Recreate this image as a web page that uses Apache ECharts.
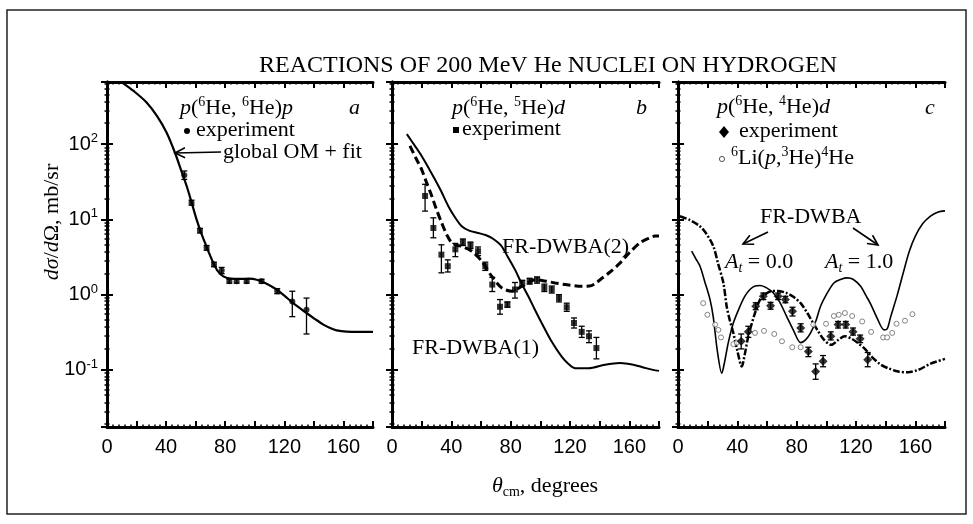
<!DOCTYPE html>
<html>
<head>
<meta charset="utf-8">
<title>Reactions of 200 MeV He nuclei on hydrogen</title>
<script src="https://cdn.jsdelivr.net/npm/echarts@6/dist/echarts.min.js"></script>
<style>
	html, body { margin: 0; padding: 0; background: #fff; }
	#chart { width: 973px; height: 524px; }
</style>
</head>
<body>
<div id="chart"></div>
<script>
	// tick labels
	const xTickLabels = [0, 40, 80, 120, 160];
	const yRange = [0.0174, 671];

	// panel a: p(6He,6He)p, [theta, dsigma]
	const omFit = [[4, 800], [10.8, 650], [18, 510], [26.8, 359], [34, 235], [40.3, 143], [46, 77], [50, 46],
		[53.9, 27.8], [57, 17.5], [60.6, 10], [63.5, 6.8], [66.3, 4.9], [69, 3.6], [71.9, 2.65], [75, 2.05],
		[78.7, 1.75], [84, 1.63], [90, 1.62], [96, 1.63], [101.3, 1.58], [108, 1.4], [114.8, 1.17], [120, 0.97],
		[126, 0.77], [135, 0.57], [141, 0.47], [146.4, 0.4], [151, 0.36], [155.4, 0.335], [162, 0.322],
		[171, 0.32], [180, 0.32]];
	// [theta, value, low, high]
	const expA = [[52.3, 38.6, 34, 44], [57.2, 16.7, 15.5, 18], [62.9, 7.1, 6.6, 7.6], [67.4, 4.19, 3.9, 4.5],
		[72.4, 2.51, 2.35, 2.7], [77.6, 2.09, 1.9, 2.3], [82.8, 1.51, 1.42, 1.6], [87.7, 1.51, 1.42, 1.6],
		[94.5, 1.51, 1.42, 1.6], [104.6, 1.51, 1.42, 1.6], [115.2, 1.11, 1.03, 1.2], [125.4, 0.81, 0.51, 1.11],
		[135, 0.63, 0.3, 0.9]];

	// panel b: p(6He,5He)d
	const dwba1 = [[10, 136], [15, 98], [20, 69.8], [25, 47], [29, 34], [33, 24], [38, 15], [42, 11], [47, 8.1],
		[52, 7.1], [58.2, 6.6], [63, 6.2], [67.2, 5.7], [71, 5.0], [73.9, 4.4], [78, 3.2], [82.9, 2.15],
		[87.4, 1.4], [91.9, 0.95], [96, 0.65], [100.9, 0.42], [107, 0.25], [114.4, 0.15], [119, 0.12],
		[123.6, 0.105], [132.5, 0.105], [143.6, 0.117], [153.7, 0.123], [162.7, 0.117], [170, 0.107],
		[176, 0.1], [180, 0.097]];
	const dwba2 = [[12.1, 95], [16, 66], [20, 46], [23, 32], [26.8, 20.5], [30, 13.5], [33.5, 9], [37, 6.2],
		[40.3, 4.9], [44, 4.5], [47, 4.4], [53.8, 3.78], [60.5, 2.78], [67.3, 1.75], [74, 1.23], [80.7, 1.11],
		[87.5, 1.29], [92, 1.45], [96.4, 1.58], [103, 1.52], [109.9, 1.43], [118, 1.35], [127.9, 1.29],
		[133, 1.3], [137, 1.4], [140.3, 1.58], [147, 2.0], [153.8, 2.64], [160, 3.6], [167.3, 4.9],
		[173, 5.6], [177.3, 6.0], [180, 6.0]];
	const expB = [[22.3, 20.5, 12.9, 29.3], [27.9, 7.7, 5.7, 10.5], [33.3, 3.4, 1.95, 4.6], [37.6, 2.39, 2.0, 2.9],
		[42.7, 4.0, 3.2, 4.8], [47.8, 5.0, 4.5, 5.5], [52.9, 4.55, 4.1, 5.0], [58.0, 3.78, 3.3, 4.3],
		[62.9, 2.39, 2.1, 2.7], [67.6, 1.36, 1.1, 1.7], [72.8, 0.69, 0.55, 0.86], [77.8, 0.74, 0.68, 0.8],
		[82.9, 1.17, 0.9, 1.45], [87.8, 1.43, 1.3, 1.55], [92.8, 1.51, 1.38, 1.65], [97.8, 1.58, 1.42, 1.72],
		[102.7, 1.23, 1.1, 1.38], [107.7, 1.17, 1.05, 1.3], [112.6, 0.9, 0.8, 1.0], [117.8, 0.68, 0.6, 0.77],
		[122.7, 0.42, 0.36, 0.49], [127.9, 0.32, 0.27, 0.38], [132.8, 0.28, 0.23, 0.33],
		[137.8, 0.195, 0.14, 0.27]];

	// panel c: p(6He,4He)d
	const at10 = [[9.2, 3.78], [12, 3.0], [14.8, 2.4], [18, 1.5], [21.6, 0.86], [23.8, 0.5], [26.5, 0.18],
		[29.5, 0.09], [31.5, 0.13], [33.9, 0.23], [37.3, 0.42], [41.8, 0.7], [45, 0.95], [48.5, 1.17], [52, 1.3],
		[55.3, 1.32], [60, 1.22], [64.3, 1.05], [68.5, 0.8], [73.3, 0.51], [78, 0.33], [82.7, 0.23], [86, 0.25],
		[89.4, 0.31], [93, 0.45], [96.1, 0.7], [100, 1.0], [105.1, 1.43], [110, 1.6], [114.1, 1.67], [118, 1.6],
		[123.1, 1.29], [127, 0.95], [129.9, 0.75], [134, 0.5], [138.9, 0.34], [141, 0.35], [143.4, 0.51],
		[147.9, 1.0], [152, 2.0], [156, 3.8], [160, 6.0], [165, 8.8], [170, 11], [175, 12.5], [180, 13]];
	const at00 = [[1.3, 11], [8, 9.8], [14.8, 8.1], [19, 6.5], [23.8, 4.4], [27, 2.6], [30.6, 1.43], [32.8, 0.7],
		[35, 0.45], [37.3, 0.31], [40, 0.18], [43, 0.111], [45, 0.16], [47.4, 0.28], [51.9, 0.57], [55.3, 0.86],
		[58.5, 1.0], [62, 1.1], [67, 1.12], [73.3, 1.05], [78, 0.93], [82.7, 0.77], [87.2, 0.57], [90.5, 0.44],
		[93.9, 0.34], [98.5, 0.25], [103.4, 0.215], [108, 0.25], [112.4, 0.28], [117, 0.26], [121.4, 0.227],
		[126, 0.19], [130.5, 0.15], [136, 0.12], [141.7, 0.105], [148.5, 0.095], [155, 0.093], [162, 0.1],
		[170, 0.12], [180, 0.14]];
	const expC = [[42.6, 0.24, 0.19, 0.3], [47.4, 0.32, 0.27, 0.38], [52.4, 0.7, 0.63, 0.78], [57.5, 0.95, 0.86, 1.05],
		[62.4, 0.71, 0.64, 0.79], [67.5, 0.95, 0.86, 1.05], [72.4, 0.86, 0.78, 0.95], [77.2, 0.6, 0.52, 0.68],
		[82.7, 0.36, 0.32, 0.41], [87.9, 0.175, 0.15, 0.2], [92.8, 0.095, 0.075, 0.12], [97.8, 0.13, 0.11, 0.155],
		[103.0, 0.28, 0.25, 0.32], [107.9, 0.4, 0.36, 0.44], [113.1, 0.4, 0.36, 0.44], [118, 0.32, 0.29, 0.36],
		[122.8, 0.26, 0.23, 0.29], [127.9, 0.136, 0.11, 0.17]];
	const li6 = [[17, 0.77], [19.8, 0.54], [25, 0.4], [27.2, 0.34], [29, 0.27], [37.3, 0.22], [39.6, 0.23],
		[51.9, 0.31], [58, 0.33], [64.9, 0.3], [70.1, 0.24], [77, 0.2], [82.7, 0.2], [91.2, 0.4], [99.8, 0.41],
		[105.1, 0.52], [108.4, 0.54], [112.5, 0.57], [117.4, 0.52], [124.2, 0.44], [130.2, 0.32], [138.3, 0.27],
		[141, 0.27], [144.4, 0.31], [147.3, 0.41], [153, 0.45], [158, 0.55]];

	const serif = '"Liberation Serif", "Times New Roman", serif';
	const sans = '"Liberation Sans", Arial, sans-serif';

	const grids = [
		{left: 107, top: 82, width: 266, height: 345},
		{left: 392, top: 82, width: 267, height: 345},
		{left: 678, top: 82, width: 267, height: 345}
	];

	function xAx(g, pos) {
		return {
			type: 'value', gridIndex: g, position: pos, min: 0, max: 180, interval: 20,
			axisLine: {onZero: false, lineStyle: {color: '#000', width: 3}},
			axisTick: {inside: true, length: 6, lineStyle: {color: '#000', width: 2}},
			minorTick: {show: true, splitNumber: 5, length: 2.5, lineStyle: {color: '#000', width: 1.5}},
			splitLine: {show: false},
			axisLabel: {
				show: pos === 'bottom', margin: 10, color: '#000', fontFamily: sans, fontSize: 20,
				formatter: v => xTickLabels.indexOf(v) >= 0 ? String(v) : ''
			}
		}
	}

	function yAx(g, pos, labels) {
		return {
			type: 'log', logBase: 10, gridIndex: g, position: pos, min: yRange[0], max: yRange[1],
			axisLine: {lineStyle: {color: '#000', width: 3}},
			axisTick: {inside: true, length: 6, lineStyle: {color: '#000', width: 2}},
			minorTick: {show: true, splitNumber: 10, length: 2.5, lineStyle: {color: '#000', width: 1.5}},
			splitLine: {show: false},
			axisLabel: {
				show: labels, margin: 9, showMinLabel: false, showMaxLabel: false,
				formatter: v => {
					const e = Math.log10(v)
					const r = Math.round(e)
					if (Math.abs(e - r) > 1e-6) return ''
					return '{b|10}{s|' + r + '}'
				},
				rich: {
					b: {color: '#000', fontFamily: sans, fontSize: 20, lineHeight: 24},
					s: {color: '#000', fontFamily: sans, fontSize: 13, lineHeight: 13, verticalAlign: 'top'}
				}
			}
		}
	}

	function errorBars(params, api) {
		const top = api.coord([api.value(0), api.value(3)])
		const bot = api.coord([api.value(0), api.value(2)])
		const w = 3
		const st = {stroke: '#000', lineWidth: 1.3}
		return {
			type: 'group',
			children: [
				{type: 'line', shape: {x1: top[0], y1: top[1], x2: bot[0], y2: bot[1]}, style: st},
				{type: 'line', shape: {x1: top[0] - w, y1: top[1], x2: top[0] + w, y2: top[1]}, style: st},
				{type: 'line', shape: {x1: bot[0] - w, y1: bot[1], x2: bot[0] + w, y2: bot[1]}, style: st}
			]
		}
	}

	function lineSeries(g, data, width, type) {
		return {
			type: 'line', xAxisIndex: 2 * g, yAxisIndex: 2 * g, data: data, smooth: 0.3,
			symbol: 'none', silent: true, z: 2,
			lineStyle: {color: '#000', width: width, type: type}
		}
	}

	function errSeries(g, data) {
		return {
			type: 'custom', xAxisIndex: 2 * g, yAxisIndex: 2 * g, data: data, z: 3,
			encode: {x: 0, y: 1}, renderItem: errorBars, silent: true
		}
	}

	function dotSeries(g, data, symbol, size, style) {
		return {
			type: 'scatter', xAxisIndex: 2 * g, yAxisIndex: 2 * g, data: data.map(d => [d[0], d[1]]),
			symbol: symbol, symbolSize: size, itemStyle: style, z: 4, silent: true
		}
	}

	// text styles for annotations
	const rich = {
		n: {fontFamily: serif, fontSize: 22, lineHeight: 26, fill: '#000'},
		i: {fontFamily: serif, fontSize: 22, lineHeight: 26, fontStyle: 'italic', fill: '#000'},
		s: {fontFamily: serif, fontSize: 14, lineHeight: 14, verticalAlign: 'top', fill: '#000'},
		u: {fontFamily: serif, fontSize: 14, lineHeight: 14, verticalAlign: 'bottom', fill: '#000'},
		ui: {fontFamily: serif, fontSize: 14, lineHeight: 14, verticalAlign: 'bottom', fontStyle: 'italic', fill: '#000'}
	}

	function label(x, y, text, extra) {
		return Object.assign({
			type: 'text', x: x, y: y, silent: true,
			style: {text: text, rich: rich, align: 'left', verticalAlign: 'middle', fill: '#000'}
		}, extra || {})
	}

	function arrow(x1, y1, x2, y2) {
		const dx = x2 - x1, dy = y2 - y1
		const len = Math.sqrt(dx * dx + dy * dy)
		const ux = dx / len, uy = dy / len
		const bx = x2 - ux * 10, by = y2 - uy * 10
		const st = {stroke: '#000', lineWidth: 1.6, fill: null}
		return [
			{type: 'line', shape: {x1: x1, y1: y1, x2: x2, y2: y2}, style: st, silent: true},
			{type: 'polyline', shape: {points: [[bx - uy * 5, by + ux * 5], [x2, y2], [bx + uy * 5, by - ux * 5]]}, style: st, silent: true}
		]
	}

	const graphics = [
		{type: 'rect', shape: {x: 7, y: 10, width: 959, height: 504}, style: {fill: 'none', stroke: '#222', lineWidth: 1.5}, silent: true},
		label(548, 66, '', {
			style: {text: 'REACTIONS OF 200 MeV He NUCLEI ON HYDROGEN', fontFamily: serif, fontSize: 24, fill: '#000', align: 'center', verticalAlign: 'middle'}
		}),
		label(52, 222, '', {rotation: Math.PI / 2,
			style: {text: '{i|dσ}{n|/}{i|d}{n|Ω, mb/sr}', rich: rich, align: 'center', verticalAlign: 'middle'}}),
		label(545, 486, '', {
			style: {text: '{i|θ}{u|cm}{n|, degrees}', rich: rich, align: 'center', verticalAlign: 'middle'}}),

		// panel a
		label(180, 108, '{i|p}{n|(}{s|6}{n|He, }{s|6}{n|He)}{i|p}'),
		label(349, 108, '{i|a}'),
		{type: 'circle', shape: {cx: 187, cy: 131, r: 3}, style: {fill: '#000'}, silent: true},
		label(196, 130, '{n|experiment}'),
		label(223, 152, '{n|global OM + fit}'),
		...arrow(221, 152, 175, 153),

		// panel b
		label(452, 108, '{i|p}{n|(}{s|6}{n|He, }{s|5}{n|He)}{i|d}'),
		label(636, 108, '{i|b}'),
		{type: 'rect', shape: {x: 453, y: 127, width: 6, height: 6}, style: {fill: '#000'}, silent: true},
		label(462, 129, '{n|experiment}'),
		label(502, 247, '{n|FR-DWBA(2)}'),
		label(412, 348, '{n|FR-DWBA(1)}'),

		// panel c
		label(717, 107, '{i|p}{n|(}{s|6}{n|He, }{s|4}{n|He)}{i|d}'),
		label(925, 108, '{i|c}'),
		{type: 'polygon', shape: {points: [[724, 126], [729, 132], [724, 138], [719, 132]]}, style: {fill: '#000'}, silent: true},
		label(739, 131, '{n|experiment}'),
		{type: 'circle', shape: {cx: 722, cy: 159, r: 2.6}, style: {fill: '#fff', stroke: '#555', lineWidth: 1}, silent: true},
		label(731, 158, '{s|6}{n|Li(}{i|p}{n|,}{s|3}{n|He)}{s|4}{n|He}'),
		label(760, 217, '{n|FR-DWBA}'),
		label(725, 262, '{i|A}{ui|t}{n| = 0.0}'),
		label(825, 262, '{i|A}{ui|t}{n| = 1.0}'),
		...arrow(768, 232, 743, 244),
		...arrow(853, 228, 878, 245)
	]

	const option = {
		animation: false,
		backgroundColor: '#fff',
		grid: grids,
		xAxis: [xAx(0, 'bottom'), xAx(0, 'top'), xAx(1, 'bottom'), xAx(1, 'top'), xAx(2, 'bottom'), xAx(2, 'top')],
		yAxis: [yAx(0, 'left', true), yAx(0, 'right', false), yAx(1, 'left', false), yAx(1, 'right', false),
			yAx(2, 'left', false), yAx(2, 'right', false)],
		graphic: graphics,
		series: [
			lineSeries(0, omFit, 2.2, 'solid'),
			errSeries(0, expA),
			dotSeries(0, expA, 'circle', 6, {color: '#000'}),

			lineSeries(1, dwba1, 2, 'solid'),
			lineSeries(1, dwba2, 3, [8, 4]),
			errSeries(1, expB),
			dotSeries(1, expB, 'rect', 6, {color: '#000'}),

			lineSeries(2, at10, 1.6, 'solid'),
			lineSeries(2, at00, 2.5, [7, 2, 2, 2]),
			dotSeries(2, li6, 'circle', 5, {color: '#fff', borderColor: '#666', borderWidth: 1}),
			errSeries(2, expC),
			dotSeries(2, expC, 'diamond', 9, {color: '#000'})
		]
	}

	const dom = echarts.init(document.getElementById('chart'))
	dom.setOption(option)
</script>
</body>
</html>
